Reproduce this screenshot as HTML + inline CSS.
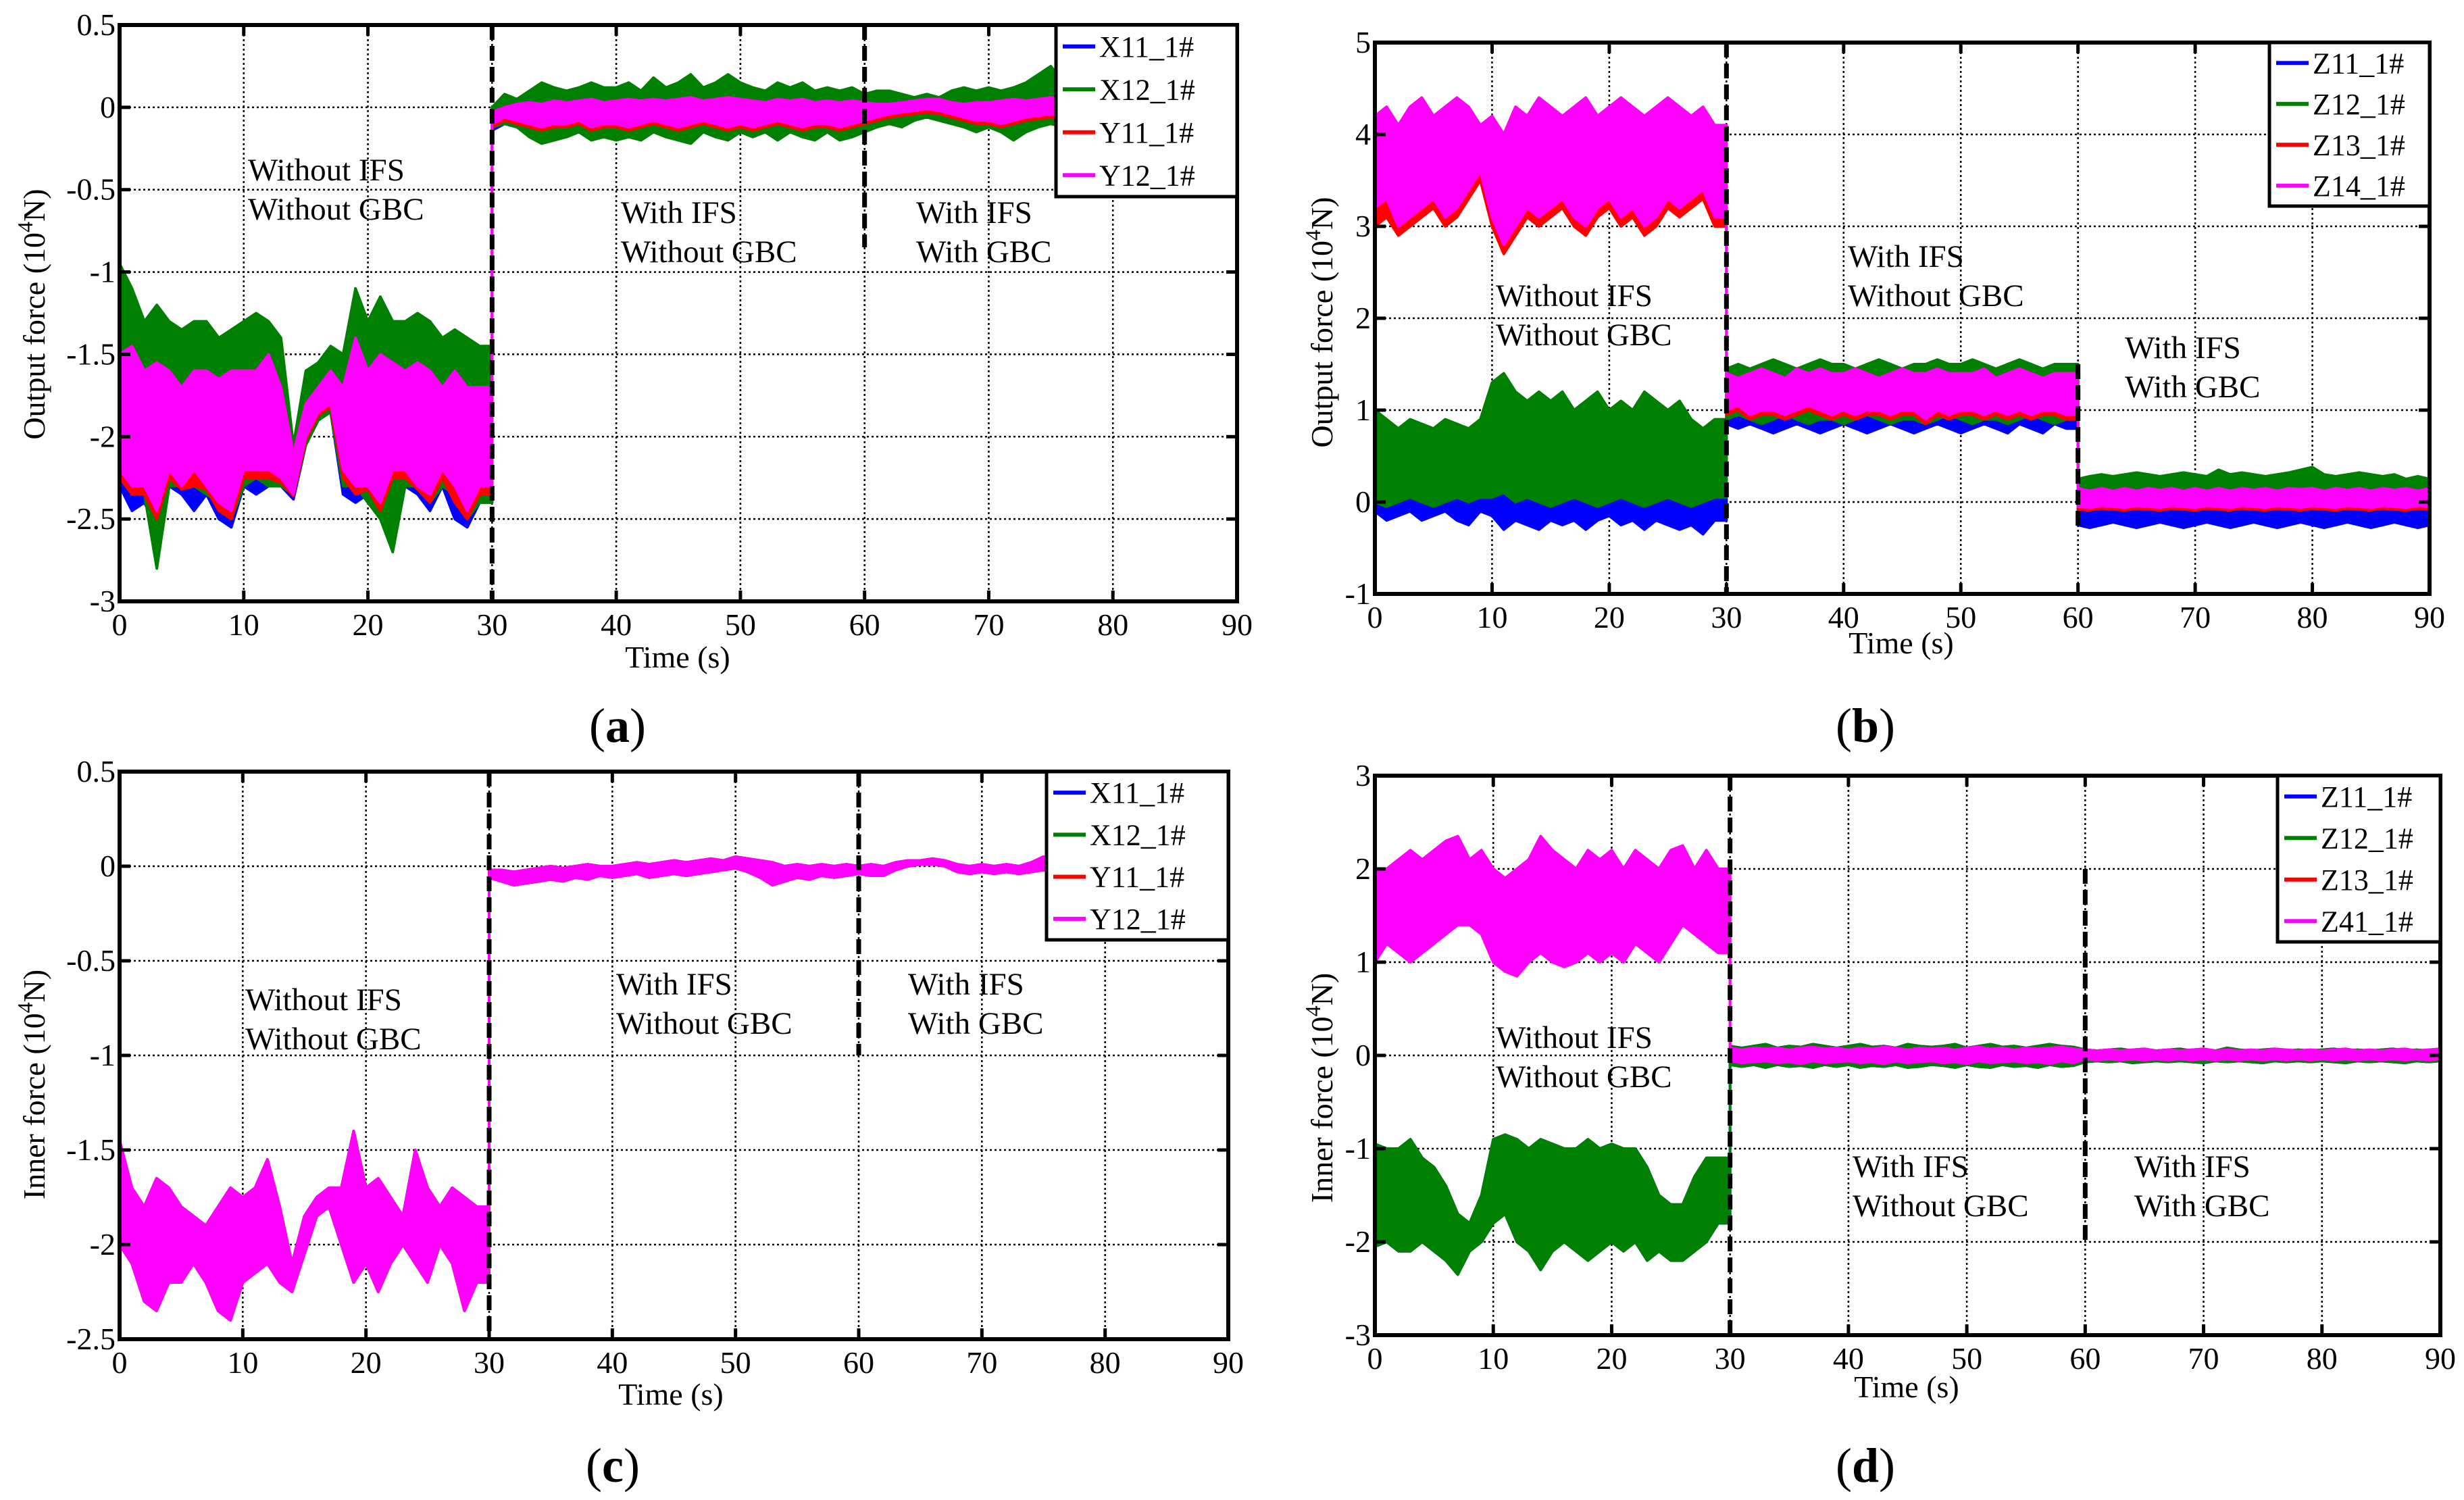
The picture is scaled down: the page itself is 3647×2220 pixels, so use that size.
<!DOCTYPE html>
<html><head><meta charset="utf-8"><style>
html,body{margin:0;padding:0;background:#fff}
svg{display:block}
text{font-family:"Liberation Serif",serif;fill:#000}
</style></head><body>
<svg id="fig" xmlns="http://www.w3.org/2000/svg" width="3647" height="2220" viewBox="0 0 3647 2220"></svg>
<script>
// ---------- DATA (units: 10^4 N, one sample per second, t = 0..90 s) ----------
const xTicks = [0,10,20,30,40,50,60,70,80,90];
const yTicksA = [0.5,0,-0.5,-1,-1.5,-2,-2.5,-3];
const yTicksB = [5,4,3,2,1,0,-1];
const yTicksC = [0.5,0,-0.5,-1,-1.5,-2,-2.5];
const yTicksD = [3,2,1,0,-1,-2,-3];
const legendA = ["X11_1#","X12_1#","Y11_1#","Y12_1#"];
const legendB = ["Z11_1#","Z12_1#","Z13_1#","Z14_1#"];
const legendD = ["Z11_1#","Z12_1#","Z13_1#","Z41_1#"];

// Panel (a)
const A_gHi = [-0.95,-1.1,-1.3,-1.2,-1.3,-1.35,-1.3,-1.3,-1.4,-1.35,
 -1.3,-1.25,-1.3,-1.4,-2.05,-1.6,-1.55,-1.45,-1.5,-1.1,
 -1.3,-1.15,-1.3,-1.3,-1.25,-1.3,-1.4,-1.35,-1.4,-1.45,
 0.0,0.08,0.05,0.1,0.15,0.12,0.1,0.12,0.15,0.12,
 0.12,0.15,0.1,0.18,0.12,0.15,0.2,0.12,0.15,0.2,
 0.15,0.12,0.1,0.15,0.12,0.15,0.1,0.12,0.1,0.12,
 0.08,0.1,0.1,0.08,0.06,0.08,0.06,0.1,0.12,0.1,
 0.12,0.1,0.12,0.15,0.2,0.25,0.15,0.12,0.15,0.12,
 0.12,0.15,0.12,0.1,0.12,0.15,0.12,0.1,0.12,0.15,0.12];
const A_gLo = [-2.2,-2.3,-2.35,-2.8,-2.3,-2.3,-2.3,-2.35,-2.4,-2.5,
 -2.3,-2.25,-2.3,-2.3,-2.35,-2.05,-1.9,-1.85,-2.3,-2.3,
 -2.4,-2.5,-2.7,-2.3,-2.3,-2.4,-2.3,-2.35,-2.5,-2.4,
 -0.12,-0.1,-0.12,-0.18,-0.22,-0.2,-0.18,-0.15,-0.2,-0.18,
 -0.2,-0.18,-0.2,-0.15,-0.18,-0.2,-0.22,-0.15,-0.18,-0.2,
 -0.15,-0.18,-0.15,-0.2,-0.15,-0.18,-0.2,-0.15,-0.2,-0.18,
 -0.15,-0.12,-0.1,-0.12,-0.08,-0.06,-0.08,-0.1,-0.12,-0.15,
 -0.12,-0.15,-0.2,-0.15,-0.12,-0.1,-0.12,-0.15,-0.12,-0.1,
 -0.12,-0.15,-0.12,-0.1,-0.12,-0.15,-0.12,-0.1,-0.12,-0.15,-0.12];
const A_mHi = [-1.5,-1.45,-1.6,-1.55,-1.6,-1.7,-1.6,-1.6,-1.65,-1.6,
 -1.6,-1.6,-1.5,-1.7,-2.1,-1.8,-1.7,-1.6,-1.7,-1.4,
 -1.6,-1.5,-1.55,-1.6,-1.55,-1.6,-1.7,-1.6,-1.7,-1.7,
 -0.03,0.0,0.02,0.03,0.02,0.04,0.03,0.04,0.05,0.03,
 0.04,0.05,0.04,0.05,0.04,0.05,0.06,0.04,0.05,0.06,
 0.05,0.04,0.03,0.05,0.04,0.05,0.03,0.04,0.03,0.04,
 0.03,0.02,0.02,0.03,0.04,0.05,0.05,0.03,0.02,0.03,
 0.03,0.04,0.05,0.04,0.05,0.06,0.05,0.04,0.05,0.04,
 0.04,0.05,0.04,0.03,0.04,0.05,0.04,0.03,0.04,0.05,0.04];
const A_mLo = [-2.2,-2.3,-2.3,-2.45,-2.2,-2.3,-2.2,-2.3,-2.4,-2.45,
 -2.2,-2.2,-2.2,-2.25,-2.35,-2.0,-1.85,-1.8,-2.2,-2.3,
 -2.3,-2.4,-2.2,-2.2,-2.3,-2.35,-2.2,-2.3,-2.45,-2.3,
 -0.1,-0.06,-0.08,-0.1,-0.12,-0.1,-0.1,-0.08,-0.12,-0.1,
 -0.1,-0.12,-0.1,-0.08,-0.1,-0.12,-0.1,-0.08,-0.1,-0.12,
 -0.1,-0.12,-0.1,-0.08,-0.1,-0.12,-0.1,-0.1,-0.12,-0.1,
 -0.08,-0.06,-0.04,-0.03,-0.02,-0.01,-0.02,-0.04,-0.06,-0.08,
 -0.08,-0.1,-0.08,-0.06,-0.05,-0.04,-0.06,-0.08,-0.06,-0.05,
 -0.06,-0.08,-0.06,-0.05,-0.06,-0.08,-0.06,-0.05,-0.06,-0.08,-0.06];
const A_bLo = [-2.3,-2.45,-2.4,-2.55,-2.3,-2.35,-2.45,-2.35,-2.5,-2.55,
 -2.3,-2.35,-2.3,-2.3,-2.38,-2.05,-1.9,-1.85,-2.35,-2.4,
 -2.35,-2.5,-2.3,-2.3,-2.35,-2.45,-2.3,-2.5,-2.55,-2.4,
 -0.14,-0.1,-0.12,-0.15,-0.17,-0.15,-0.15,-0.12,-0.16,-0.15,
 -0.15,-0.17,-0.15,-0.12,-0.15,-0.17,-0.15,-0.12,-0.15,-0.17,
 -0.15,-0.17,-0.15,-0.12,-0.15,-0.17,-0.15,-0.15,-0.17,-0.15,
 -0.12,-0.1,-0.08,-0.06,-0.05,-0.04,-0.05,-0.08,-0.1,-0.12,
 -0.12,-0.14,-0.12,-0.1,-0.09,-0.08,-0.1,-0.12,-0.1,-0.09,
 -0.1,-0.12,-0.1,-0.09,-0.1,-0.12,-0.1,-0.09,-0.1,-0.12,-0.1];
const A_rLo = [-2.25,-2.35,-2.35,-2.5,-2.25,-2.32,-2.3,-2.32,-2.45,-2.5,
 -2.25,-2.25,-2.25,-2.28,-2.36,-2.02,-1.87,-1.82,-2.25,-2.35,
 -2.32,-2.45,-2.25,-2.25,-2.32,-2.4,-2.25,-2.4,-2.5,-2.35,
 -0.12,-0.08,-0.1,-0.12,-0.14,-0.12,-0.12,-0.1,-0.14,-0.12,
 -0.12,-0.14,-0.12,-0.1,-0.12,-0.14,-0.12,-0.1,-0.12,-0.14,
 -0.12,-0.14,-0.12,-0.1,-0.12,-0.14,-0.12,-0.12,-0.14,-0.12,
 -0.1,-0.08,-0.06,-0.05,-0.04,-0.03,-0.04,-0.06,-0.08,-0.1,
 -0.1,-0.12,-0.1,-0.08,-0.07,-0.06,-0.08,-0.1,-0.08,-0.07,
 -0.08,-0.1,-0.08,-0.07,-0.08,-0.1,-0.08,-0.07,-0.08,-0.1,-0.08];

// Panel (b)
const B_mHi = [4.2,4.3,4.1,4.3,4.4,4.2,4.3,4.4,4.3,4.1,
 4.2,4.0,4.3,4.2,4.4,4.3,4.2,4.3,4.4,4.2,
 4.3,4.4,4.3,4.2,4.3,4.4,4.3,4.2,4.3,4.1,
 1.4,1.35,1.4,1.45,1.4,1.35,1.45,1.4,1.45,1.4,
 1.4,1.45,1.4,1.35,1.4,1.45,1.4,1.4,1.45,1.4,
 1.4,1.4,1.45,1.35,1.4,1.45,1.4,1.35,1.4,1.4,
 0.15,0.12,0.15,0.12,0.15,0.12,0.15,0.13,0.15,0.12,
 0.15,0.12,0.15,0.12,0.15,0.13,0.15,0.12,0.15,0.14,
 0.15,0.12,0.15,0.13,0.15,0.12,0.15,0.13,0.15,0.12,0.15];
const B_mLo = [3.2,3.3,3.0,3.1,3.2,3.3,3.1,3.2,3.4,3.6,
 3.1,2.8,3.0,3.2,3.1,3.2,3.3,3.1,3.0,3.2,
 3.3,3.1,3.2,3.0,3.1,3.3,3.2,3.3,3.4,3.1,
 1.0,1.05,0.95,1.0,1.0,0.95,1.0,1.05,1.0,0.95,
 1.0,0.95,1.0,1.0,0.95,1.0,1.0,0.9,1.0,0.95,
 1.0,1.0,0.95,1.0,0.95,1.0,0.95,1.0,1.0,0.95,
 -0.05,-0.06,-0.04,-0.05,-0.06,-0.04,-0.05,-0.06,-0.04,-0.05,
 -0.06,-0.04,-0.05,-0.06,-0.04,-0.05,-0.06,-0.04,-0.05,-0.06,
 -0.04,-0.05,-0.06,-0.04,-0.05,-0.06,-0.04,-0.05,-0.06,-0.04,-0.05];
const B_rLo = [3.0,3.1,2.9,3.0,3.1,3.2,3.0,3.1,3.3,3.5,
 3.0,2.7,2.9,3.1,3.0,3.1,3.2,3.0,2.9,3.1,
 3.2,3.0,3.1,2.9,3.0,3.2,3.1,3.2,3.3,3.0,
 0.95,1.0,0.9,0.95,0.95,0.9,0.95,1.0,0.95,0.9,
 0.95,0.9,0.95,0.95,0.9,0.95,0.95,0.85,0.95,0.9,
 0.95,0.95,0.9,0.95,0.9,0.95,0.9,0.95,0.95,0.9,
 -0.08,-0.09,-0.07,-0.08,-0.09,-0.07,-0.08,-0.09,-0.07,-0.08,
 -0.09,-0.07,-0.08,-0.09,-0.07,-0.08,-0.09,-0.07,-0.08,-0.09,
 -0.07,-0.08,-0.09,-0.07,-0.08,-0.09,-0.07,-0.08,-0.09,-0.07,-0.08];
const B_gHi = [1.0,0.9,0.8,0.9,0.85,0.8,0.9,0.85,0.8,0.9,
 1.3,1.4,1.2,1.1,1.2,1.1,1.2,1.0,1.1,1.2,
 1.0,1.1,1.0,1.2,1.1,1.0,1.1,0.9,0.8,0.9,
 1.45,1.5,1.45,1.5,1.55,1.5,1.45,1.5,1.55,1.5,
 1.5,1.45,1.5,1.55,1.5,1.45,1.5,1.5,1.55,1.5,
 1.5,1.55,1.5,1.45,1.5,1.55,1.5,1.45,1.5,1.5,
 0.25,0.28,0.3,0.28,0.3,0.32,0.3,0.28,0.3,0.32,
 0.3,0.28,0.35,0.3,0.32,0.3,0.28,0.3,0.32,0.35,
 0.38,0.3,0.28,0.3,0.32,0.3,0.28,0.3,0.25,0.28,0.25];
const B_gLo = [0.0,-0.05,0.0,0.05,0.0,-0.05,0.0,0.05,0.0,0.05,
 0.05,0.1,0.0,0.05,0.0,-0.05,0.0,0.05,0.0,-0.05,
 0.0,0.05,0.0,-0.05,0.0,0.05,0.0,-0.05,0.0,0.05,
 0.9,0.95,0.9,0.85,0.9,0.95,0.9,0.85,0.9,0.9,
 0.85,0.9,0.95,0.9,0.85,0.9,0.9,0.85,0.9,0.95,
 0.9,0.85,0.9,0.9,0.85,0.9,0.95,0.9,0.85,0.9,
 0.0,0.02,0.0,0.03,0.02,0.0,0.03,0.02,0.0,0.02,
 0.03,0.0,0.02,0.0,0.03,0.02,0.0,0.02,0.03,0.0,
 0.02,0.0,0.03,0.02,0.0,0.02,0.03,0.0,0.02,0.0,0.02];
const B_bHi = [0.4,0.3,0.35,0.4,0.3,0.35,0.4,0.3,0.35,0.4,
 0.5,0.6,0.5,0.45,0.5,0.4,0.5,0.45,0.4,0.5,
 0.4,0.45,0.4,0.5,0.45,0.4,0.45,0.35,0.3,0.35,
 1.2,1.25,1.2,1.2,1.25,1.2,1.2,1.25,1.2,1.2,
 1.25,1.2,1.2,1.25,1.2,1.2,1.25,1.2,1.2,1.25,
 1.2,1.2,1.25,1.2,1.2,1.25,1.2,1.2,1.25,1.2,
 0.0,0.0,0.02,0.0,0.0,0.02,0.0,0.0,0.02,0.0,
 0.0,0.02,0.0,0.0,0.02,0.0,0.0,0.02,0.0,0.0,
 0.02,0.0,0.0,0.02,0.0,0.0,0.02,0.0,0.0,0.02,0.0];
const B_bLo = [-0.1,-0.2,-0.15,-0.1,-0.2,-0.15,-0.1,-0.2,-0.25,-0.1,
 -0.15,-0.3,-0.2,-0.25,-0.3,-0.2,-0.25,-0.2,-0.3,-0.2,
 -0.15,-0.25,-0.2,-0.3,-0.2,-0.25,-0.3,-0.25,-0.35,-0.2,
 0.85,0.8,0.85,0.8,0.75,0.8,0.85,0.8,0.75,0.8,
 0.85,0.8,0.75,0.8,0.85,0.8,0.75,0.8,0.85,0.8,
 0.75,0.8,0.85,0.8,0.75,0.85,0.8,0.75,0.85,0.8,
 -0.25,-0.28,-0.25,-0.22,-0.25,-0.28,-0.25,-0.22,-0.25,-0.28,
 -0.25,-0.22,-0.25,-0.28,-0.25,-0.22,-0.25,-0.28,-0.25,-0.22,
 -0.25,-0.28,-0.25,-0.22,-0.25,-0.28,-0.25,-0.22,-0.25,-0.28,-0.25];

// Panel (c) — the four inner-force series overlap almost exactly
const C_mHi = [-1.45,-1.7,-1.8,-1.65,-1.7,-1.8,-1.85,-1.9,-1.8,-1.7,
 -1.75,-1.7,-1.55,-1.8,-2.1,-1.85,-1.75,-1.7,-1.7,-1.4,
 -1.7,-1.65,-1.75,-1.85,-1.5,-1.7,-1.8,-1.7,-1.75,-1.8,
 -0.02,-0.02,-0.03,-0.02,-0.01,0.0,-0.01,0.0,0.01,0.0,
 0.0,0.01,0.02,0.01,0.02,0.03,0.02,0.03,0.04,0.03,
 0.05,0.04,0.03,0.02,0.0,0.01,0.0,0.01,0.0,0.01,
 0.0,0.01,0.0,0.02,0.03,0.03,0.04,0.03,0.01,0.0,
 0.01,0.0,0.01,0.0,0.02,0.05,0.02,0.01,0.02,0.01,
 0.02,0.01,0.02,0.01,0.02,0.01,0.02,0.01,0.02,0.01,0.02];
const C_mLo = [-2.0,-2.1,-2.3,-2.35,-2.2,-2.2,-2.1,-2.2,-2.35,-2.4,
 -2.2,-2.15,-2.1,-2.2,-2.25,-2.05,-1.85,-1.8,-2.0,-2.2,
 -2.1,-2.25,-2.1,-2.0,-2.1,-2.2,-2.0,-2.1,-2.35,-2.2,
 -0.06,-0.08,-0.1,-0.09,-0.08,-0.07,-0.08,-0.06,-0.07,-0.05,
 -0.06,-0.05,-0.04,-0.06,-0.05,-0.04,-0.05,-0.04,-0.03,-0.02,
 -0.01,-0.03,-0.06,-0.1,-0.08,-0.06,-0.07,-0.05,-0.06,-0.05,
 -0.04,-0.05,-0.05,-0.02,0.0,0.01,0.01,0.0,-0.03,-0.04,
 -0.03,-0.04,-0.03,-0.04,-0.03,-0.02,-0.03,-0.04,-0.03,-0.04,
 -0.03,-0.04,-0.03,-0.04,-0.03,-0.04,-0.03,-0.04,-0.03,-0.04,-0.03];

// Panel (d)
const D_mHi = [2.0,2.0,2.1,2.2,2.1,2.2,2.3,2.35,2.1,2.2,
 2.0,1.9,2.0,2.1,2.35,2.2,2.1,2.0,2.2,2.1,
 2.2,2.0,2.2,2.1,2.0,2.2,2.25,2.0,2.2,2.0,
 0.08,0.06,0.08,0.07,0.08,0.06,0.08,0.09,0.07,0.08,
 0.06,0.08,0.07,0.09,0.08,0.06,0.08,0.07,0.08,0.06,
 0.08,0.09,0.07,0.08,0.06,0.08,0.07,0.08,0.09,0.07,
 0.06,0.05,0.06,0.05,0.06,0.07,0.05,0.06,0.05,0.06,
 0.07,0.05,0.06,0.05,0.06,0.05,0.07,0.06,0.05,0.06,
 0.05,0.06,0.07,0.05,0.06,0.05,0.06,0.07,0.05,0.06,0.07];
const D_mLo = [1.0,1.2,1.1,1.0,1.1,1.2,1.3,1.4,1.4,1.3,
 1.0,0.9,0.85,1.0,1.1,1.0,0.95,1.0,1.1,1.0,
 1.1,1.0,1.2,1.1,1.0,1.2,1.4,1.3,1.2,1.1,
 -0.06,-0.08,-0.07,-0.06,-0.08,-0.07,-0.09,-0.06,-0.08,-0.07,
 -0.06,-0.08,-0.07,-0.09,-0.06,-0.08,-0.07,-0.06,-0.08,-0.07,
 -0.09,-0.06,-0.08,-0.07,-0.06,-0.08,-0.07,-0.09,-0.06,-0.08,
 -0.04,-0.05,-0.04,-0.05,-0.04,-0.05,-0.04,-0.05,-0.04,-0.05,
 -0.04,-0.05,-0.04,-0.05,-0.04,-0.05,-0.04,-0.05,-0.04,-0.05,
 -0.04,-0.05,-0.04,-0.05,-0.04,-0.05,-0.04,-0.05,-0.04,-0.05,-0.04];
const D_gHi = [-0.95,-1.0,-1.0,-0.9,-1.1,-1.2,-1.4,-1.7,-1.8,-1.5,
 -0.9,-0.85,-0.9,-1.0,-0.9,-0.95,-1.0,-1.0,-0.9,-1.0,
 -0.95,-1.0,-1.0,-1.2,-1.5,-1.6,-1.6,-1.3,-1.1,-1.1,
 0.1,0.08,0.1,0.12,0.08,0.1,0.09,0.12,0.1,0.08,
 0.1,0.12,0.09,0.1,0.08,0.12,0.1,0.09,0.1,0.12,
 0.08,0.1,0.12,0.09,0.1,0.08,0.1,0.12,0.1,0.09,
 0.06,0.05,0.06,0.07,0.05,0.06,0.05,0.06,0.07,0.05,
 0.06,0.05,0.08,0.06,0.05,0.06,0.07,0.05,0.06,0.05,
 0.06,0.07,0.05,0.06,0.05,0.06,0.07,0.05,0.06,0.05,0.06];
const D_gLo = [-2.05,-2.0,-2.1,-2.1,-2.0,-2.1,-2.2,-2.35,-2.1,-2.0,
 -1.8,-1.7,-2.0,-2.1,-2.3,-2.1,-2.0,-2.1,-2.2,-2.1,
 -2.0,-2.1,-2.0,-2.2,-2.1,-2.2,-2.2,-2.1,-2.0,-1.8,
 -0.1,-0.12,-0.1,-0.13,-0.1,-0.12,-0.11,-0.13,-0.1,-0.12,
 -0.1,-0.13,-0.11,-0.12,-0.1,-0.13,-0.12,-0.1,-0.11,-0.13,
 -0.1,-0.12,-0.13,-0.1,-0.12,-0.11,-0.13,-0.1,-0.12,-0.11,
 -0.07,-0.06,-0.07,-0.06,-0.08,-0.07,-0.06,-0.07,-0.06,-0.07,
 -0.08,-0.06,-0.07,-0.06,-0.07,-0.08,-0.06,-0.07,-0.06,-0.07,
 -0.06,-0.07,-0.08,-0.06,-0.07,-0.06,-0.07,-0.08,-0.06,-0.07,-0.06];

// ---------- RENDERING ----------
const NS = "http://www.w3.org/2000/svg";
const svg = document.getElementById('fig');
const COL = ["#0000ff","#008000","#ff0000","#ff00ff"];
function mk(tag, attrs, parent){
  const e = document.createElementNS(NS, tag);
  for (const k in attrs) e.setAttribute(k, attrs[k]);
  (parent||svg).appendChild(e);
  return e;
}

function panel(cfg){
  const g = mk('g', {});
  
  
  const X = t => cfg.L + (t - 0) / 90 * (cfg.R - cfg.L);
  const Y = v => cfg.B - (v - cfg.ymin) / (cfg.ymax - cfg.ymin) * (cfg.B - cfg.T);

  // grid
  const grid = mk('g', {stroke:'#000','stroke-width':2.5,'stroke-dasharray':'3 4'}, g);
  
  
  xTicks.forEach(t => { if (t>0 && t<90) mk('line',{x1:X(t),x2:X(t),y1:cfg.T,y2:cfg.B},grid); });
  cfg.yTicks.forEach(v => { if (v>cfg.ymin && v<cfg.ymax) mk('line',{x1:cfg.L,x2:cfg.R,y1:Y(v),y2:Y(v)},grid); });

  // series bands
  cfg.series.forEach((s, k) => {
    const pts = [];
    const n = Math.min(s.hi.length, s.lo.length);
    for (let i=0;i<n;i++){
      if (cfg.jumps.includes(i) && i>0) pts.push(X(i)+','+Y(s.hi[i-1]));
      pts.push(X(i)+','+Y(s.hi[i]));
    }
    for (let i=n-1;i>=0;i--){
      pts.push(X(i)+','+Y(s.lo[i]));
      if (cfg.jumps.includes(i) && i>0) pts.push(X(i)+','+Y(s.lo[i-1]));
    }
    const p = mk('polygon',{points:pts.join(' '),fill:COL[s.c],stroke:COL[s.c],'stroke-width':4,'stroke-linejoin':'round'},g);
    
    
  });

  // dashed switch lines
  cfg.vlines.forEach(vl => {
    const l = mk('line',{x1:X(vl.t),x2:X(vl.t),y1:Y(vl.top),y2:Y(vl.bot),stroke:'#000','stroke-width':7,'stroke-dasharray':'22 9'},g);
    
    
  });

  // frame + ticks
  const fr = mk('rect',{x:cfg.L,y:cfg.T,width:cfg.R-cfg.L,height:cfg.B-cfg.T,fill:'none',stroke:'#000','stroke-width':6},g);
  
  
  const tk = mk('g',{stroke:'#000','stroke-width':5},g);
  xTicks.forEach(t => {
    mk('line',{x1:X(t),x2:X(t),y1:cfg.B,y2:cfg.B-16},tk);
    mk('line',{x1:X(t),x2:X(t),y1:cfg.T,y2:cfg.T+16},tk);
    const tx = mk('text',{x:X(t),y:cfg.B+50,'font-size':46,'text-anchor':'middle'},g);
    tx.textContent = t;
    
    
  });
  cfg.yTicks.forEach(v => {
    mk('line',{x1:cfg.L,x2:cfg.L+16,y1:Y(v),y2:Y(v)},tk);
    mk('line',{x1:cfg.R,x2:cfg.R-16,y1:Y(v),y2:Y(v)},tk);
    const ty = mk('text',{x:cfg.L-6,y:Y(v)+15,'font-size':46,'text-anchor':'end'},g);
    ty.textContent = v;
    
    
  });

  // annotations
  cfg.notes.forEach(nt => {
    const t = mk('text',{x:nt.x,y:nt.y,'font-size':47},g);
    t.textContent = nt.a;
    
    
    const t2 = mk('text',{x:nt.x,y:nt.y+58,'font-size':47},g);
    t2.textContent = nt.b;
    
    
  });

  // legend
  const lg = mk('g',{},g);
  
  
  const lw = cfg.R - cfg.lgX, lh = cfg.lgH;
  mk('rect',{x:cfg.lgX,y:cfg.T,width:lw,height:lh,fill:'#fff',stroke:'#000','stroke-width':5},lg);
  cfg.legend.forEach((name,k) => {
    const yy = cfg.T + lh*(k+0.5)/4;
    const ln = mk('line',{x1:cfg.lgX+10,x2:cfg.lgX+58,y1:yy,y2:yy,stroke:COL[k],'stroke-width':6},lg);
    
    
    const t = mk('text',{x:cfg.lgX+64,y:yy+15,'font-size':44},lg);
    t.textContent = name;
    
    
  });

  // axis titles & panel label
  const xt = mk('text',{x:cfg.xtX,y:cfg.xtY,'font-size':46,'text-anchor':'middle'},g);
  xt.textContent = 'Time (s)';
  
  
  const yt = mk('text',{x:0,y:0,'font-size':46,'text-anchor':'middle',transform:`translate(${cfg.ytX},${cfg.ytY}) rotate(-90)`},g);
  
  
  const s1 = mk('tspan',{},yt); s1.textContent = cfg.ytitle + ' (10';
  const s2 = mk('tspan',{dy:-18,'font-size':32},yt); s2.textContent = '4';
  const s3 = mk('tspan',{dy:18},yt); s3.textContent = 'N)';
  const pl = mk('text',{x:cfg.plX,y:cfg.plY,'font-size':72,'text-anchor':'middle'},g);
  
  
  const p1 = mk('tspan',{},pl); p1.textContent='(';
  const p2 = mk('tspan',{'font-weight':'bold'},pl); p2.textContent=cfg.id;
  const p3 = mk('tspan',{},pl); p3.textContent=')';
}

panel({id:'a',L:177,R:1831,T:37,B:890,ymin:-3,ymax:0.5,yTicks:yTicksA,jumps:[30],
  series:[{c:0,hi:A_mHi,lo:A_bLo},{c:1,hi:A_gHi,lo:A_gLo},{c:2,hi:A_mHi,lo:A_rLo},{c:3,hi:A_mHi,lo:A_mLo}],
  vlines:[{t:30,top:0.5,bot:-3},{t:60,top:0.5,bot:-0.85}],
  notes:[{x:367,y:267,a:'Without IFS',b:'Without GBC'},{x:919,y:330,a:'With IFS',b:'Without GBC'},{x:1356,y:330,a:'With IFS',b:'With GBC'}],
  legend:legendA,lgX:1563,lgH:254,xtX:1003,xtY:988,ytX:66,ytY:465,ytitle:'Output force',plX:914,plY:1098});
panel({id:'b',L:2035,R:3596,T:63,B:879,ymin:-1,ymax:5,yTicks:yTicksB,jumps:[30,60],
  series:[{c:0,hi:B_bHi,lo:B_bLo},{c:1,hi:B_gHi,lo:B_gLo},{c:2,hi:B_mHi,lo:B_rLo},{c:3,hi:B_mHi,lo:B_mLo}],
  vlines:[{t:30,top:5,bot:-1},{t:60,top:1.5,bot:-0.3}],
  notes:[{x:2214,y:453,a:'Without IFS',b:'Without GBC'},{x:2735,y:395,a:'With IFS',b:'Without GBC'},{x:3145,y:530,a:'With IFS',b:'With GBC'}],
  legend:legendB,lgX:3359,lgH:242,xtX:2814,xtY:967,ytX:1972,ytY:477,ytitle:'Output force',plX:2761,plY:1098});
panel({id:'c',L:177,R:1818,T:1142,B:1982,ymin:-2.5,ymax:0.5,yTicks:yTicksC,jumps:[30],
  series:[{c:0,hi:C_mHi,lo:C_mLo},{c:1,hi:C_mHi,lo:C_mLo},{c:2,hi:C_mHi,lo:C_mLo},{c:3,hi:C_mHi,lo:C_mLo}],
  vlines:[{t:30,top:0.5,bot:-2.5},{t:60,top:0.5,bot:-1}],
  notes:[{x:363,y:1495,a:'Without IFS',b:'Without GBC'},{x:912,y:1472,a:'With IFS',b:'Without GBC'},{x:1344,y:1472,a:'With IFS',b:'With GBC'}],
  legend:legendA,lgX:1549,lgH:249,xtX:993,xtY:2079,ytX:66,ytY:1605,ytitle:'Inner force',plX:907,plY:2193});
panel({id:'d',L:2035,R:3612,T:1148,B:1976,ymin:-3,ymax:3,yTicks:yTicksD,jumps:[30],
  series:[{c:0,hi:D_gHi,lo:D_gLo},{c:1,hi:D_gHi,lo:D_gLo},{c:2,hi:D_mHi,lo:D_mLo},{c:3,hi:D_mHi,lo:D_mLo}],
  vlines:[{t:30,top:3,bot:-3},{t:60,top:2,bot:-2}],
  notes:[{x:2214,y:1551,a:'Without IFS',b:'Without GBC'},{x:2742,y:1742,a:'With IFS',b:'Without GBC'},{x:3159,y:1742,a:'With IFS',b:'With GBC'}],
  legend:legendD,lgX:3371,lgH:246,xtX:2822,xtY:2068,ytX:1972,ytY:1610,ytitle:'Inner force',plX:2761,plY:2193});
</script>
</body></html>
